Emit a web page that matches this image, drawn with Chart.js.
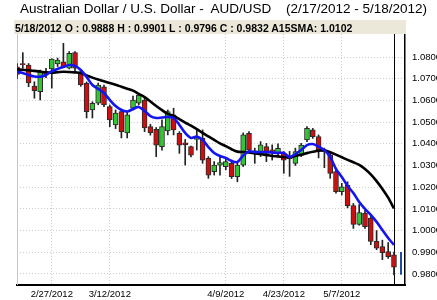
<!DOCTYPE html>
<html>
<head>
<meta charset="utf-8">
<script src="https://cdn.jsdelivr.net/npm/chart.js@4.4.1/dist/chart.umd.min.js"></script>
<style>
html,body{margin:0;padding:0;background:#fff;}
#wrap{position:relative;width:437px;height:300px;overflow:hidden;font-family:"Liberation Sans",Arial,sans-serif;color:#000;}
#c{position:absolute;left:0;top:0;}
#t1{position:absolute;left:20px;top:1px;font-size:13.5px;line-height:16px;white-space:pre;}
#t2{position:absolute;right:10px;top:1px;font-size:13.5px;line-height:16px;white-space:pre;}
#info{position:absolute;left:14px;top:20px;width:392px;height:14px;background:#ebe8d9;}
#infoText{position:absolute;left:1px;top:1px;font-weight:bold;font-size:10.5px;line-height:14px;white-space:pre;}
</style>
</head>
<body>
<div id="wrap">
<canvas id="c" width="437" height="300"></canvas>
<div id="t1">Australian Dollar / U.S. Dollar -  AUD/USD</div>
<div id="t2">(2/17/2012 - 5/18/2012)</div>
<div id="info"><div id="infoText">5/18/2012 O : 0.9888 H : 0.9901 L : 0.9796 C : 0.9832 A15SMA: 1.0102</div></div>
</div>
<script>
const dates = [
"2/17/2012",
"2/20/2012","2/21/2012","2/22/2012","2/23/2012","2/24/2012",
"2/27/2012","2/28/2012","2/29/2012","3/1/2012","3/2/2012",
"3/5/2012","3/6/2012","3/7/2012","3/8/2012","3/9/2012",
"3/12/2012","3/13/2012","3/14/2012","3/15/2012","3/16/2012",
"3/19/2012","3/20/2012","3/21/2012","3/22/2012","3/23/2012",
"3/26/2012","3/27/2012","3/28/2012","3/29/2012","3/30/2012",
"4/2/2012","4/3/2012","4/4/2012","4/5/2012","4/6/2012",
"4/9/2012","4/10/2012","4/11/2012","4/12/2012","4/13/2012",
"4/16/2012","4/17/2012","4/18/2012","4/19/2012","4/20/2012",
"4/23/2012","4/24/2012","4/25/2012","4/26/2012","4/27/2012",
"4/30/2012","5/1/2012","5/2/2012","5/3/2012","5/4/2012",
"5/7/2012","5/8/2012","5/9/2012","5/10/2012","5/11/2012",
"5/14/2012","5/15/2012","5/16/2012","5/17/2012","5/18/2012"];

const open = [1.0755,1.0770,1.0763,1.0666,1.0640,1.0732,1.0745,1.0768,1.0778,1.0748,
1.0820,1.0732,1.0679,1.0556,1.0587,1.0663,1.0571,1.0487,1.0548,1.0450,
1.0564,1.0587,1.0602,1.0479,1.0467,1.0387,1.0459,1.0533,1.0448,1.0405,
1.0387,1.0420,1.0425,1.0333,1.0272,1.0302,1.0295,1.0310,1.0248,1.0302,
1.0448,1.0368,1.0364,1.0387,1.0372,1.0356,1.0356,1.0340,1.0310,1.0348,
1.0418,1.0464,1.0433,1.0371,1.0348,1.0272,1.0179,1.0210,1.0115,1.0029,
1.0081,1.0058,0.9950,0.9926,0.9903,0.9888];

const high = [1.0770,1.0820,1.0770,1.0686,1.0740,1.0748,1.0792,1.0795,1.0863,1.0825,
1.0825,1.0740,1.0685,1.0594,1.0680,1.0671,1.0579,1.0556,1.0560,1.0545,
1.0620,1.0630,1.0610,1.0490,1.0475,1.0510,1.0556,1.0564,1.0456,1.0420,
1.0390,1.0470,1.0464,1.0341,1.0318,1.0341,1.0333,1.0325,1.0318,1.0450,
1.0456,1.0380,1.0410,1.0402,1.0395,1.0400,1.0364,1.0365,1.0380,1.0402,
1.0479,1.0471,1.0441,1.0380,1.0356,1.0280,1.0218,1.0225,1.0125,1.0120,
1.0095,1.0065,1.0000,0.9956,0.9945,0.9901];

const low = [1.0700,1.0748,1.0663,1.0610,1.0602,1.0705,1.0657,1.0756,1.0752,1.0745,
1.0735,1.0665,1.0519,1.0519,1.0580,1.0571,1.0479,1.0470,1.0427,1.0427,
1.0555,1.0580,1.0456,1.0440,1.0341,1.0371,1.0441,1.0441,1.0356,1.0302,
1.0340,1.0371,1.0310,1.0241,1.0256,1.0256,1.0280,1.0240,1.0225,1.0295,
1.0364,1.0310,1.0341,1.0318,1.0325,1.0340,1.0264,1.0250,1.0300,1.0341,
1.0410,1.0425,1.0335,1.0290,1.0241,1.0172,1.0164,1.0105,1.0010,1.0025,
1.0010,0.9935,0.9912,0.9866,0.9872,0.9796];

const close = [1.0720,1.0765,1.0680,1.0645,1.0732,1.0720,1.0790,1.0786,1.0755,1.0817,
1.0748,1.0671,1.0548,1.0587,1.0671,1.0579,1.0510,1.0541,1.0456,1.0533,
1.0602,1.0625,1.0473,1.0451,1.0394,1.0479,1.0548,1.0464,1.0394,1.0395,
1.0348,1.0425,1.0325,1.0256,1.0302,1.0313,1.0318,1.0248,1.0302,1.0441,
1.0371,1.0358,1.0395,1.0356,1.0365,1.0379,1.0325,1.0330,1.0364,1.0394,
1.0471,1.0433,1.0371,1.0364,1.0264,1.0179,1.0202,1.0115,1.0029,1.0083,
1.0018,0.9950,0.9919,0.9898,0.9880,0.9832];

const maFast = [1.0732,1.0726,1.0717,1.0710,1.0709,1.0717,1.0735,1.0745,1.0754,1.0763,
1.0759,1.0740,1.0708,1.0671,1.0653,1.0634,1.0602,1.0574,1.0556,1.0549,
1.0560,1.0570,1.0551,1.0528,1.0519,1.0521,1.0524,1.0519,1.0487,1.0450,
1.0427,1.0433,1.0418,1.0385,1.0358,1.0344,1.0335,1.0321,1.0316,1.0346,
1.0365,1.0362,1.0362,1.0362,1.0360,1.0358,1.0358,1.0339,1.0353,1.0371,
1.0394,1.0399,1.0387,1.0371,1.0339,1.0284,1.0247,1.0206,1.0173,1.0132,
1.0100,1.0072,1.0040,1.0003,0.9966,0.9934];

const maSlow = [1.0743,1.0741,1.0739,1.0736,1.0733,1.0729,1.0728,1.0730,1.0732,1.0731,
1.0729,1.0726,1.0715,1.0705,1.0696,1.0688,1.0680,1.0672,1.0663,1.0654,
1.0645,1.0630,1.0615,1.0595,1.0574,1.0555,1.0538,1.0528,1.0514,1.0498,
1.0484,1.0468,1.0450,1.0434,1.0418,1.0402,1.0389,1.0375,1.0364,1.0362,
1.0360,1.0356,1.0353,1.0348,1.0344,1.0342,1.0339,1.0338,1.0344,1.0350,
1.0357,1.0363,1.0368,1.0370,1.0361,1.0350,1.0338,1.0326,1.0315,1.0303,
1.0284,1.0259,1.0228,1.0192,1.0152,1.0102];

const xTickLabels = ["2/27/2012","3/12/2012","4/9/2012","4/23/2012","5/7/2012"];
const yTickValues = [0.98,0.99,1.00,1.01,1.02,1.03,1.04,1.05,1.06,1.07,1.08];

const UP = '#35c435', DOWN = '#cc1010';
const idx = dates.map((d,i)=>i);
const wickData = idx.map(i=>({x:i, y:[low[i], high[i]]}));
const bodyData = idx.map(i=>({x:i, y:[Math.min(open[i],close[i]), Math.max(open[i],close[i])]}));
const bodyColors = idx.map(i=> close[i] >= open[i] ? UP : DOWN);

const overlay = {
  id:'overlay',
  beforeDatasetsDraw(chart){
    const {ctx, chartArea:a, scales:{x}} = chart;
    const last = dates.length-1;
    const px = Math.round(x.getPixelForValue(last)) + 0.5;
    ctx.save();
    ctx.lineWidth = 1;
    ctx.strokeStyle = '#c8c8c8';
    ctx.beginPath(); ctx.moveTo(a.left+0.5, a.top); ctx.lineTo(a.left+0.5, a.bottom); ctx.stroke();
    ctx.strokeStyle = '#000';
    ctx.beginPath(); ctx.moveTo(px, a.top); ctx.lineTo(px, a.bottom); ctx.stroke();
    ctx.restore();
  },
  afterDraw(chart){
    const {ctx, chartArea:a, scales:{y}} = chart;
    const last = dates.length-1;
    ctx.save();
    ctx.strokeStyle = '#1f4aa8';
    ctx.lineWidth = 2;
    const mx = a.right - 4;
    ctx.beginPath();
    ctx.moveTo(mx, y.getPixelForValue(high[last]));
    ctx.lineTo(mx, y.getPixelForValue(low[last]));
    ctx.stroke();
    ctx.restore();
  }
};

new Chart(document.getElementById('c'), {
  type:'bar',
  data:{
    datasets:[
      {type:'line', label:'fast', data: idx.map(i=>({x:i,y:maFast[i]})), borderColor:'#1414f0', borderWidth:2.6, pointRadius:0, tension:0.3, order:0},
      {type:'line', label:'A15SMA', data: idx.map(i=>({x:i,y:maSlow[i]})), borderColor:'#000', borderWidth:2.6, pointRadius:0, tension:0.3, order:1},
      {label:'body', data: bodyData, backgroundColor: bodyColors, borderColor:'#2a2a2a', borderWidth:1, borderSkipped:false, barThickness:5, grouped:false, order:2, minBarLength:1},
      {label:'wick', data: wickData, backgroundColor:'#222', borderWidth:0, barThickness:1, grouped:false, order:3}
    ]
  },
  options:{
    responsive:false,
    animation:false,
    devicePixelRatio:1,
    layout:{padding:{left:17, top:34, right:0, bottom:0}},
    plugins:{legend:{display:false}, tooltip:{enabled:false}, title:{display:false}},
    scales:{
      x:{
        type:'linear', offset:false, min:0, max:66.9,
        grid:{offset:false, color:'#cccccc', drawTicks:false, lineWidth:1},
        border:{display:true, color:'#000', width:2, dash:[1,2]},
        afterBuildTicks(s){ s.ticks = xTickLabels.map(l=>({value: dates.indexOf(l)})); },
        ticks:{padding:4, color:'#000', font:{family:'"Liberation Sans", Arial, sans-serif', size:9.5}, maxRotation:0, autoSkip:false,
          callback:(v)=> dates[v] },
        afterFit(s){ s.height = 15; }
      },
      y:{
        type:'linear', position:'right', min:0.97493, max:1.0906,
        grid:{color:'#cccccc', drawTicks:false, lineWidth:1},
        border:{display:true, color:'#000', width:1.5, dash:[1,2]},
        afterBuildTicks(s){ s.ticks = yTickValues.map(v=>({value:v})); },
        ticks:{padding:7, color:'#000', font:{family:'"Liberation Sans", Arial, sans-serif', size:9.5},
          callback:(v)=> Number(v).toFixed(4) },
        afterFit(s){ s.width = 32; }
      }
    }
  },
  plugins:[overlay]
});
</script>
</body>
</html>
